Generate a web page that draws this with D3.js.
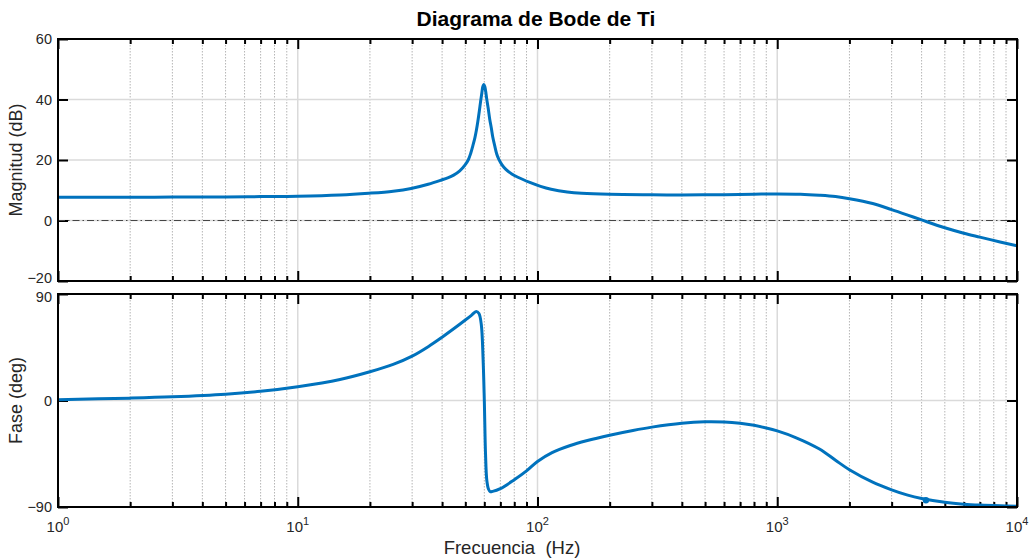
<!DOCTYPE html>
<html>
<head>
<meta charset="utf-8">
<script src="https://cdn.jsdelivr.net/npm/d3@7"></script>
<style>
  body { margin: 0; background: #fff; }
  svg { display: block; font-family: "Liberation Sans", Arial, Helvetica, sans-serif; }
  .lbl { fill: #262626; }
</style>
</head>
<body>
<svg width="1029" height="558"></svg>
<script>
// --- data ---
var magFreq = [1, 2, 3, 5, 7, 10, 15, 19.8, 25, 29.7, 35, 39.8, 42.2, 44.7, 47.4, 49.8, 51.4, 52.7, 53.7, 54.8, 55.6, 56.4, 57.2, 58.0, 58.6, 59.1, 59.7, 60.3, 60.9, 61.4, 62.3, 63.2, 64.2, 65.1, 66.4, 67.6, 69.0, 71.0, 73.8, 78.1, 82.8, 92.9, 103, 114, 133, 153, 200, 300, 400, 600, 800, 1000, 1250, 1500, 1750, 2000, 2500, 3000, 3500, 4000, 5000, 6000, 7000, 8500, 10000];
var magDb   = [7.7, 7.7, 7.75, 7.8, 7.9, 8.0, 8.4, 9.0, 9.7, 10.6, 12.0, 13.4, 14.1, 15.0, 16.4, 18.3, 20.0, 22.3, 24.6, 27.3, 29.8, 32.8, 36.2, 39.8, 42.2, 44.2, 45.0, 44.2, 42.3, 40.2, 37.0, 33.5, 30.5, 27.5, 24.5, 22.0, 20.2, 18.5, 16.9, 15.4, 14.3, 12.6, 11.3, 10.35, 9.45, 9.0, 8.65, 8.5, 8.45, 8.55, 8.7, 8.8, 8.7, 8.35, 7.9, 7.2, 5.6, 3.6, 1.8, 0.2, -2.4, -4.2, -5.5, -7.1, -8.4];

var phFreq = [1, 2, 3, 5, 7, 10, 15, 20, 25, 30, 35, 40, 45, 50, 53, 55.5, 57, 58.3, 59.3, 60, 60.7, 61.5, 62.5, 63.5, 65, 70, 80, 90, 100, 115, 137, 160, 200, 250, 300, 400, 500, 600, 700, 800, 900, 1000, 1200, 1500, 1750, 2000, 2500, 3000, 3500, 4000, 5000, 6000, 7000, 8500, 10000];
var phDeg  = [0.7, 2.0, 3.1, 5.3, 7.8, 11.7, 17.8, 24.3, 30.5, 37.5, 45.5, 53.5, 61, 68, 72, 75.3, 73.5, 64, 35, 0, -45, -68, -75, -77, -76.8, -74.5, -67, -59.5, -51.5, -44, -38, -34, -29.3, -25.3, -22.5, -19.2, -18.0, -18.2, -19.3, -21.0, -23.2, -25.7, -31.5, -41, -50.5, -58.5, -69, -75.5, -80, -82.8, -86, -87.6, -88.4, -89, -89.3];

var markFreq = [4170];
var markDeg  = [-84.3];

var decades = [1, 10, 100, 1000, 10000];
var minorSteps = [2, 3, 4, 5, 6, 7, 8, 9];
var magTicks = [-20, 0, 20, 40, 60];
var phTicks = [-90, 0, 90];

var svg = d3.select("svg"),
    left = 58, right = 1017,
    magTop = 39, magBot = 281,
    phTop = 294, phBot = 507,
    blue = "#0072BD";

var minorTicks = [];
decades.slice(0, -1).forEach(function(d) {
  minorSteps.forEach(function(k) { minorTicks.push(d * k); });
});

var x = d3.scaleLog().domain([1, 10000]).range([left, right]);
var yMag = d3.scaleLinear().domain([-20, 60]).range([magBot, magTop]);
var yPh = d3.scaleLinear().domain([-90, 90]).range([phBot, phTop]);

svg.append("defs").append("clipPath").attr("id", "clipMag")
  .append("rect").attr("x", left).attr("y", magTop).attr("width", right - left).attr("height", magBot - magTop);
svg.select("defs").append("clipPath").attr("id", "clipPh")
  .append("rect").attr("x", left).attr("y", phTop).attr("width", right - left).attr("height", phBot - phTop);

function panel(y, top, bot, yTicks) {
  var g = svg.append("g");

  // minor grid
  g.selectAll(".minor").data(minorTicks).enter().append("line")
    .attr("x1", function(d) { return x(d); }).attr("x2", function(d) { return x(d); })
    .attr("y1", top).attr("y2", bot)
    .attr("stroke", "#b5b5b5").attr("stroke-width", 1).attr("stroke-dasharray", "1.5,1.5");
  // major grid
  g.selectAll(".majorx").data(decades).enter().append("line")
    .attr("x1", function(d) { return x(d); }).attr("x2", function(d) { return x(d); })
    .attr("y1", top).attr("y2", bot)
    .attr("stroke", "#dadada").attr("stroke-width", 1.5);
  g.selectAll(".majory").data(yTicks).enter().append("line")
    .attr("x1", left).attr("x2", right)
    .attr("y1", function(d) { return y(d); }).attr("y2", function(d) { return y(d); })
    .attr("stroke", "#dadada").attr("stroke-width", 1.5);

  // ticks (inward, all four sides)
  var axes = [
    [d3.axisBottom(x).tickValues(decades).tickSize(-10), "translate(0," + bot + ")"],
    [d3.axisTop(x).tickValues(decades).tickSize(-10), "translate(0," + top + ")"],
    [d3.axisBottom(x).tickValues(minorTicks).tickSize(-5), "translate(0," + bot + ")"],
    [d3.axisTop(x).tickValues(minorTicks).tickSize(-5), "translate(0," + top + ")"],
    [d3.axisRight(y).tickValues(yTicks).tickSize(-10), "translate(" + right + ",0)"]
  ];
  axes.forEach(function(a) {
    var ax = g.append("g").attr("transform", a[1]).call(a[0].tickFormat(""));
    ax.select(".domain").remove();
    ax.selectAll("line").attr("stroke", "#000").attr("stroke-width", 2);
  });
  var yl = g.append("g").attr("transform", "translate(" + left + ",0)")
    .call(d3.axisLeft(y).tickValues(yTicks).tickSize(-10).tickPadding(6));
  yl.select(".domain").remove();
  yl.selectAll("line").attr("stroke", "#000").attr("stroke-width", 2);
  yl.selectAll("text").attr("font-size", 14.5).attr("fill", "#262626").attr("font-family", null);

  return yl;
}

var curve = d3.curveCatmullRom.alpha(0.5);

var ylMag = panel(yMag, magTop, magBot, magTicks);
var gMag = svg.append("g");

// keep the two labels at the panel seam apart
ylMag.selectAll("text").filter(function(d) { return d === -20; }).attr("dy", "0.12em");

// zero dB reference
gMag.append("line")
  .attr("x1", left).attr("x2", right).attr("y1", yMag(0)).attr("y2", yMag(0))
  .attr("stroke", "#454545").attr("stroke-width", 1.2).attr("stroke-dasharray", "7,3,1.5,3");

gMag.append("path")
  .datum(d3.zip(magFreq, magDb))
  .attr("clip-path", "url(#clipMag)")
  .attr("fill", "none").attr("stroke", blue).attr("stroke-width", 3).attr("stroke-linejoin", "round")
  .attr("d", d3.line().curve(curve)
    .x(function(d) { return x(d[0]); })
    .y(function(d) { return yMag(d[1]); }));

var ylPh = panel(yPh, phTop, phBot, phTicks);
var gPh = svg.append("g");
ylPh.selectAll("text").filter(function(d) { return d === 90; }).attr("dy", "0.55em");

gPh.append("path")
  .datum(d3.zip(phFreq, phDeg))
  .attr("clip-path", "url(#clipPh)")
  .attr("fill", "none").attr("stroke", blue).attr("stroke-width", 3).attr("stroke-linejoin", "round")
  .attr("d", d3.line().curve(curve)
    .x(function(d) { return x(d[0]); })
    .y(function(d) { return yPh(d[1]); }));

gPh.selectAll(".mark").data(d3.zip(markFreq, markDeg)).enter().append("circle")
  .attr("cx", function(d) { return x(d[0]); })
  .attr("cy", function(d) { return yPh(d[1]); })
  .attr("r", 3.2).attr("fill", blue);

// boxes
[[magTop, magBot], [phTop, phBot]].forEach(function(b) {
  svg.append("rect")
    .attr("x", left).attr("y", b[0]).attr("width", right - left).attr("height", b[1] - b[0])
    .attr("fill", "none").attr("stroke", "#000").attr("stroke-width", 2);
});

// x tick labels 10^n
var xl = svg.append("g").selectAll("text").data(decades).enter().append("text")
  .attr("class", "lbl")
  .attr("x", function(d) { return x(d); })
  .attr("y", 532)
  .attr("text-anchor", "middle")
  .attr("font-size", 15);
xl.append("tspan").text("10");
xl.append("tspan").attr("dy", -7).attr("font-size", 11)
  .text(function(d) { return Math.round(Math.log10(d)); });

// titles
svg.append("text").attr("x", 536).attr("y", 26).attr("text-anchor", "middle")
  .attr("font-size", 21).attr("font-weight", "bold").attr("fill", "#000")
  .text("Diagrama de Bode de Ti");

svg.append("text").attr("class", "lbl")
  .attr("transform", "translate(22," + (magTop + magBot) / 2 + ") rotate(-90)")
  .attr("text-anchor", "middle").attr("font-size", 18)
  .text("Magnitud (dB)");

svg.append("text").attr("class", "lbl")
  .attr("transform", "translate(22," + (phTop + phBot) / 2 + ") rotate(-90)")
  .attr("text-anchor", "middle").attr("font-size", 18)
  .text("Fase (deg)");

svg.append("text").attr("class", "lbl")
  .attr("x", 512).attr("y", 554).attr("text-anchor", "middle")
  .attr("font-size", 18.5).style("white-space", "pre")
  .text("Frecuencia  (Hz)");
</script>
</body>
</html>
